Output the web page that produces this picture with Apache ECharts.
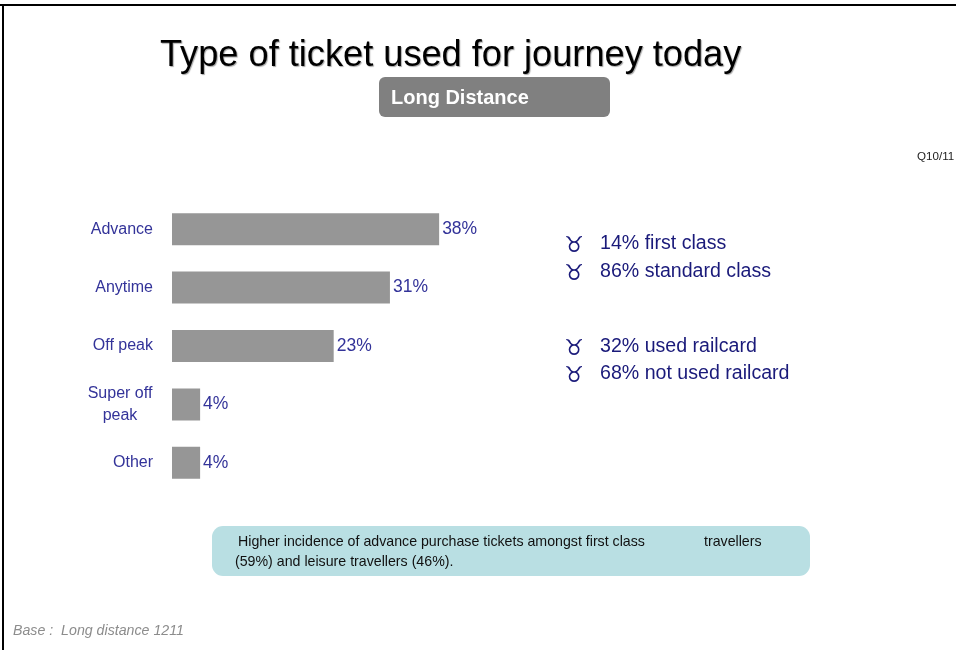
<!DOCTYPE html>
<html>
<head>
<meta charset="utf-8">
<style>html,body{margin:0;padding:0;background:#fff}#c{width:956px;height:650px}</style>
<script src="https://cdn.jsdelivr.net/npm/echarts@6/dist/echarts.min.js"></script>
</head>
<body>
<div id="c"></div>
<script>
// Ticket types and their share of long distance journeys
const categories = ['Advance', 'Anytime', 'Off peak', 'Super off\npeak', 'Other'];
const shares = [38, 31, 23, 4, 4];
const sideNotes = ['14% first class', '86% standard class', '32% used railcard', '68% not used railcard'];
const sideNoteY = [244, 272, 347, 374];
const calloutLines = ['Higher incidence of advance purchase tickets amongst first class', 'travellers', '(59%) and leisure travellers (46%).'];

const FONT = '"Liberation Sans", Arial, sans-serif';
const label = (text, x, y, size, fill, extra) => ({
  type: 'text', x, y,
  style: Object.assign({ text, fill, fontFamily: FONT, fontSize: size, textVerticalAlign: 'middle' }, extra || {})
});

const graphics = [
  // Frame lines along the top and left edges
  { type: 'rect', shape: { x: 0, y: 4, width: 956, height: 2 }, style: { fill: '#000' } },
  { type: 'rect', shape: { x: 2, y: 4, width: 2, height: 646 }, style: { fill: '#000' } },
  // Heading with its soft drop shadow
  label('Type of ticket used for journey today', 160, 56, 36.2, '#000', { textShadowColor: 'rgba(0,0,0,0.35)', textShadowBlur: 1, textShadowOffsetX: 1, textShadowOffsetY: 1 }),
  { type: 'rect', shape: { x: 379, y: 77, width: 231, height: 40, r: 6 }, style: { fill: '#808080' } },
  label('Long Distance', 391, 98, 20, '#fff', { fontWeight: 'bold' }),
  label('Q10/11', 917, 157, 11.6, '#222'),
  // Callout box under the bars
  { type: 'rect', shape: { x: 212, y: 526, width: 598, height: 50, r: 11 }, style: { fill: '#b9dfe3' } },
  label(calloutLines[0], 238, 542, 14.2, '#111'),
  label(calloutLines[1], 704, 542, 14.2, '#111'),
  label(calloutLines[2], 235, 562, 14.2, '#111'),
  label('Base :  Long distance 1211', 13, 631, 14.2, '#8c8c8c', { fontStyle: 'italic' })
];

// Side notes, each with a bullet glyph
sideNotes.forEach((note, i) => {
  graphics.push({
    type: 'text', x: 574, y: sideNoteY[i] + 2,
    style: { text: '\u2649', fill: '#1a1a7a', fontFamily: '"DejaVu Sans"', fontSize: 22, textAlign: 'center', textVerticalAlign: 'middle' }
  });
  graphics.push(label(note, 600, sideNoteY[i], 19.6, '#1a1a7a'));
});

const chart = echarts.init(document.getElementById('c'));
chart.setOption({
  animation: false,
  grid: { left: 172, top: 200, width: 703, height: 292 },
  xAxis: { type: 'value', min: 0, max: 100, show: false },
  yAxis: {
    type: 'category',
    inverse: true,
    data: categories,
    axisLine: { show: false },
    axisTick: { show: false },
    axisLabel: {
      margin: 19,
      color: '#333399',
      fontFamily: FONT,
      fontSize: 16,
      lineHeight: 22,
      // Two-line labels keep their lines centred on each other
      formatter: v => v.includes('\n') ? v.split('\n').map(s => '{c|' + s + '}').join('\n') : v,
      rich: { c: { width: 66, align: 'center', color: '#333399', fontFamily: FONT, fontSize: 16, lineHeight: 22 } }
    }
  },
  series: [{
    type: 'bar',
    data: shares,
    barWidth: 32,
    itemStyle: { color: '#969696' },
    label: {
      show: true,
      position: 'right',
      distance: 3,
      formatter: '{c}%',
      color: '#333399',
      fontFamily: FONT,
      fontSize: 17.5
    }
  }],
  graphic: { elements: graphics }
});
</script>
</body>
</html>
